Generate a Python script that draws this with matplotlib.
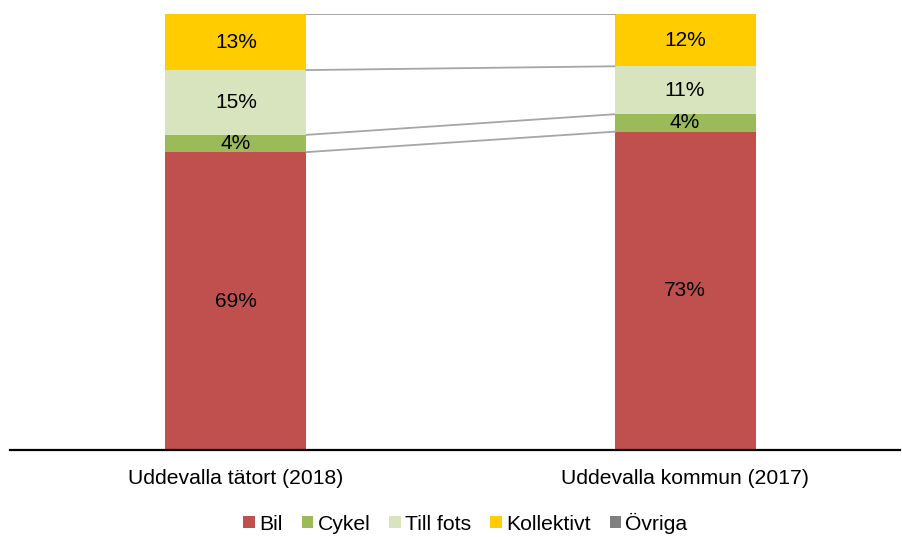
import matplotlib.pyplot as plt
import numpy as np

plt.rcParams['font.family'] = ['Liberation Sans', 'DejaVu Sans']

categories = ["Uddevalla tätort (2018)", "Uddevalla kommun (2017)"]
series = ["Bil", "Cykel", "Till fots", "Kollektivt", "Övriga"]
bil = [69, 73]
cykel = [4, 4]
till_fots = [15, 11]
kollektivt = [13, 12]
ovriga = [0, 0]
colors = ["#C0504D", "#9BBB59", "#D7E4BD", "#FFCC00", "#808080"]


def main():
    values = np.array([bil, cykel, till_fots, kollektivt, ovriga], dtype=float)
    # 100% stacked: share of each column total
    shares = values / values.sum(axis=0) * 100

    fig = plt.figure(figsize=(9.02, 5.37), dpi=100)
    ax = fig.add_axes([0.011, 0.162, 0.987, 0.812])

    x = np.arange(len(categories))
    width = 0.314
    bottom = np.zeros(len(categories))

    for i, name in enumerate(series):
        ax.bar(x, shares[i], width, bottom=bottom, color=colors[i], label=name)
        for j in range(len(categories)):
            if values[i, j] > 0:
                ax.text(x[j], bottom[j] + shares[i, j] / 2, "%d%%" % values[i, j],
                        ha="center", va="center", fontsize=15, color="black")
        bottom = bottom + shares[i]
        # series lines between the bars
        ax.plot([x[0] + width / 2, x[1] - width / 2], [bottom[0], bottom[1]],
                color="#A6A6A6", lw=1.3, zorder=1)

    ax.set_xlim(-0.503, 1.479)
    ax.set_ylim(0, 100)
    ax.set_xticks(x)
    ax.set_xticklabels(categories, fontsize=15.2)
    ax.tick_params(axis="x", length=0, pad=14)
    ax.set_yticks([])
    for side in ["top", "right", "left"]:
        ax.spines[side].set_visible(False)
    ax.spines["bottom"].set_linewidth(1.6)
    ax.spines["bottom"].set_color("black")

    fig.legend(loc="center", bbox_to_anchor=(0.516, 0.026), ncol=5, frameon=False,
               fontsize=15.2, handlelength=0.55, handleheight=0.55, handletextpad=0.2,
               columnspacing=0.9)

    fig.savefig("out.png", dpi=100)


if __name__ == "__main__":
    main()
